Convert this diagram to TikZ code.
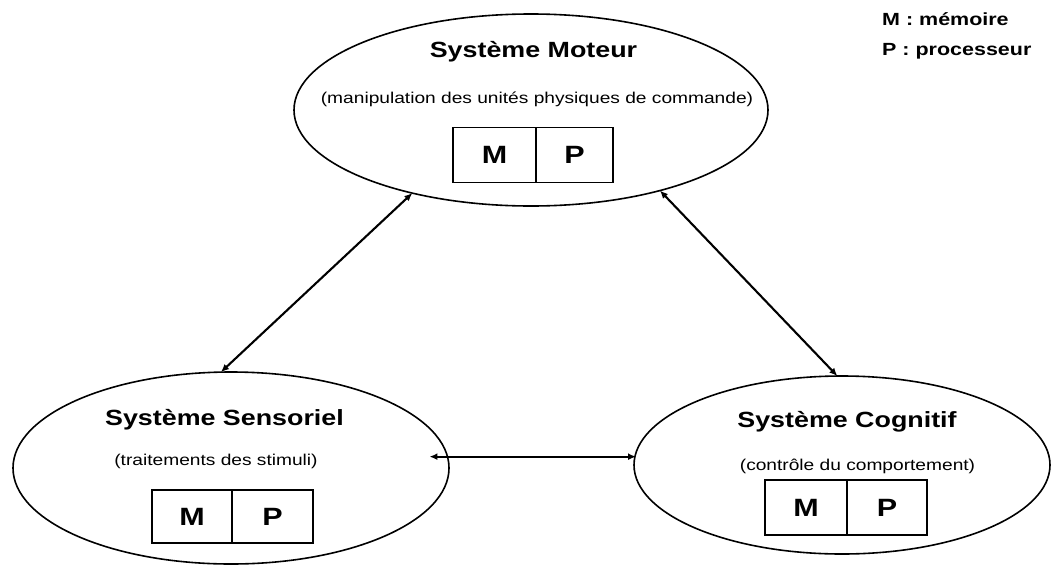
\documentclass[tikz,border=0pt]{standalone}
\usepackage{fontspec}
\setmainfont{Liberation Sans}[FakeStretch=1.22]
\usetikzlibrary{shapes.geometric,arrows.meta}
\tikzset{
  system/.style={ellipse, draw, line width=1.6pt, inner sep=0pt, outer sep=0pt},
  title/.style={anchor=base, inner sep=0pt, font=\fontsize{22}{26}\selectfont\bfseries},
  subtitle/.style={anchor=base, inner sep=0pt, font=\fontsize{15.7}{19}\selectfont},
  cell/.style={draw, line width=1.9pt, inner sep=0pt, font=\fontsize{25}{30}\selectfont\bfseries},
  legend/.style={anchor=base west, inner sep=0pt, font=\fontsize{17.6}{21}\selectfont\bfseries},
  conn/.style={{Latex[length=8pt,width=7pt]}-{Latex[length=8pt,width=7pt]}, line width=2.1pt}
}
\begin{document}
\begin{tikzpicture}[x=1pt,y=-1pt]
\useasboundingbox (0,0) rectangle (1051,565);

% the three subsystems
\node[system, minimum width=474pt, minimum height=192pt] (mot)  at (531,110) {};
\node[system, minimum width=436pt, minimum height=192pt] (sens) at (231,468) {};
\node[system, minimum width=416pt, minimum height=178pt] (cog)  at (842,465) {};

% motor system
\node[title]    (motT) at (533.5,57)  {Système Moteur};
\node[subtitle] (motS) at (537,103)   {(manipulation des unités physiques de commande)};
\node[cell, minimum width=83pt, minimum height=55pt] (motM) at (494.5,155) {M};
\node[cell, minimum width=77pt, minimum height=55pt] (motP) at (574.5,155) {P};

% sensory system
\node[title]    (sensT) at (224.5,425.5) {Système Sensoriel};
\node[subtitle] (sensS) at (216,465)     {(traitements des stimuli)};
\node[cell, minimum width=80pt, minimum height=53pt] (sensM) at (192,516.5)   {M};
\node[cell, minimum width=81pt, minimum height=53pt] (sensP) at (272.5,516.5) {P};

% cognitive system
\node[title]    (cogT) at (847,427.3) {Système Cognitif};
\node[subtitle] (cogS) at (857.5,470) {(contrôle du comportement)};
\node[cell, minimum width=82pt, minimum height=55pt] (cogM) at (806,507.5) {M};
\node[cell, minimum width=80pt, minimum height=55pt] (cogP) at (887,507.5) {P};

% legend
\node[legend] (legM) at (882,25) {M : mémoire};
\node[legend] (legP) at (882,55) {P : processeur};

% exchanges between subsystems
\draw[conn] (mot.-145) -- (sens.96.5);
\draw[conn] (mot.-32.4) -- (cog.93.9);
\coordinate (hs) at (sens.3.7);
\draw[conn] ([xshift=-18pt]hs) -- ([xshift=2pt]hs -| cog.west);
\end{tikzpicture}
\end{document}
